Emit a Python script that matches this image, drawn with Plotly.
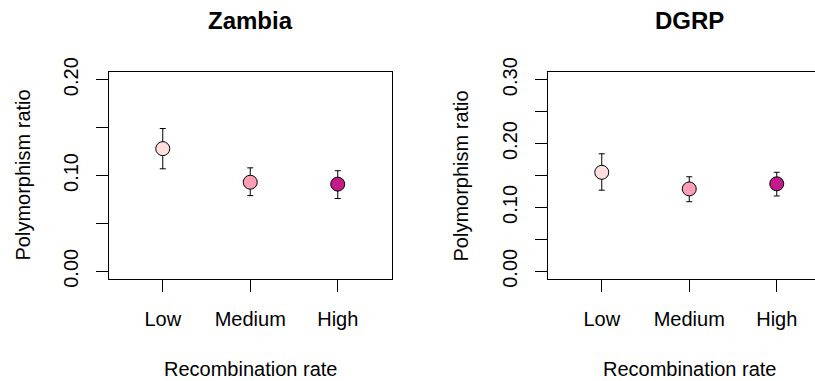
import plotly.graph_objects as go

# Recombination-rate classes
categories = ["Low", "Medium", "High"]
colors = ["#FDE0DD", "#FA9FB5", "#C51B8A"]

# Zambia population: polymorphism ratio with confidence limits
zambia_ratio = [0.128, 0.093, 0.091]
zambia_lower = [0.107, 0.079, 0.076]
zambia_upper = [0.149, 0.108, 0.105]

# DGRP population
dgrp_ratio = [0.155, 0.129, 0.137]
dgrp_lower = [0.127, 0.109, 0.118]
dgrp_upper = [0.184, 0.148, 0.155]

zambia_ticks = [0.0, 0.05, 0.10, 0.15, 0.20]
zambia_ticktext = ["0.00", "", "0.10", "", "0.20"]
dgrp_ticks = [0.0, 0.05, 0.10, 0.15, 0.20, 0.25, 0.30]
dgrp_ticktext = ["0.00", "", "0.10", "", "0.20", "", "0.30"]

W, H = 815, 381
FONT = "Liberation Sans, Arial, Helvetica, sans-serif"
xpos = [1, 2, 3]

fig = go.Figure()


def add_panel(ratio, lower, upper, xa, ya):
    fig.add_trace(go.Scatter(
        x=xpos, y=ratio, mode="markers",
        xaxis=xa, yaxis=ya,
        marker=dict(size=14, color=colors, line=dict(color="black", width=1)),
        error_y=dict(type="data", symmetric=False,
                     array=[u - r for u, r in zip(upper, ratio)],
                     arrayminus=[r - l for r, l in zip(ratio, lower)],
                     color="black", thickness=1, width=3),
        showlegend=False, hoverinfo="skip",
    ))


add_panel(zambia_ratio, zambia_lower, zambia_upper, "x", "y")
add_panel(dgrp_ratio, dgrp_lower, dgrp_upper, "x2", "y2")

# plot-area edges in pixels
y_top, y_bot = 72, 279
left_l, left_r = 108.5, 392
right_l = 547.5
step = 87.5

ydom = [1 - y_bot / H, 1 - y_top / H]

xaxis_common = dict(
    tickmode="array", tickvals=xpos, ticktext=categories,
    ticks="outside", ticklen=12, tickcolor="black", tickwidth=1,
    showgrid=False, zeroline=False, showline=True, linecolor="black",
    linewidth=1, mirror=True, automargin=False,
    tickfont=dict(family=FONT, size=20, color="black"),
    ticklabelstandoff=10,
)
yaxis_common = dict(
    tickmode="array", ticks="outside", ticklen=12, tickcolor="black",
    tickwidth=1, showgrid=False, zeroline=False, showline=True,
    linecolor="black", linewidth=1, tickangle=-90, automargin=False,
    tickfont=dict(family=FONT, size=20, color="black"),
    ticklabelstandoff=10,
)

fig.update_layout(
    width=W, height=H,
    margin=dict(l=0, r=0, t=0, b=0),
    paper_bgcolor="white", plot_bgcolor="white",
    xaxis=dict(domain=[left_l / W, left_r / W], range=[0.38, 3.62],
               anchor="y", **xaxis_common),
    yaxis=dict(domain=ydom, range=[-0.008, 0.208], anchor="x",
               tickvals=zambia_ticks, ticktext=zambia_ticktext,
               mirror=True, **yaxis_common),
    xaxis2=dict(domain=[right_l / W, 1.0],
                range=[0.38, 0.38 + (W - right_l) / step],
                anchor="y2", **xaxis_common),
    yaxis2=dict(domain=ydom, range=[-0.012, 0.312], anchor="x2",
                tickvals=dgrp_ticks, ticktext=dgrp_ticktext,
                mirror=False, **yaxis_common),
)

annots = []
for title, cx, ytx in [("Zambia", 250.5, 22), ("DGRP", 689.5, 460)]:
    annots.append(dict(text="<b>%s</b>" % title, x=cx / W, y=1 - 20.5 / H,
                       xref="paper", yref="paper", xanchor="center",
                       yanchor="middle", showarrow=False,
                       font=dict(family=FONT, size=24, color="black")))
    annots.append(dict(text="Recombination rate", x=cx / W, y=1 - 369 / H,
                       xref="paper", yref="paper", xanchor="center",
                       yanchor="middle", showarrow=False,
                       font=dict(family=FONT, size=20, color="black")))
    annots.append(dict(text="Polymorphism ratio", x=ytx / W,
                       y=1 - 175.5 / H, xref="paper", yref="paper",
                       xanchor="center", yanchor="middle", textangle=-90,
                       showarrow=False,
                       font=dict(family=FONT, size=20, color="black")))
fig.update_layout(annotations=annots)

fig.write_html("out.html")
